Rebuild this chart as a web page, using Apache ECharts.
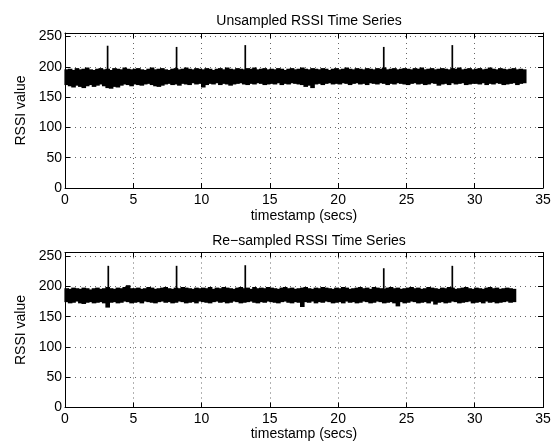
<!DOCTYPE html>
<html>
<head>
<meta charset="utf-8">
<script src="https://cdn.jsdelivr.net/npm/echarts@6/dist/echarts.min.js"></script>
<style>html,body{margin:0;padding:0;background:#fff}#c{width:556px;height:446px}</style>
</head>
<body>
<div id="c"></div>
<script>
// ---- data ----
const titles = ['Unsampled RSSI Time Series', 'Re\u2212sampled RSSI Time Series'];
const xName = 'timestamp (secs)';
const yName = 'RSSI value';
const xTicks = [0, 5, 10, 15, 20, 25, 30, 35];
const yTicks = [0, 50, 100, 150, 200, 250];
const binStep = 0.25; // seconds per envelope bin

// Unsampled series: upper / lower envelope of the dense noise band, per 0.25 s bin
const upper1 = [196,197,195,198,196,197,199,196,195,197,198,196,197,195,198,197,196,199,197,196,
197,198,196,195,197,199,196,197,198,196,195,197,198,196,197,199,197,196,198,197,
196,198,197,195,197,198,196,199,197,196,198,197,196,198,197,199,196,197,198,196,
197,196,198,197,195,197,198,196,197,199,197,196,198,197,196,198,197,195,197,198,
196,197,199,197,196,198,197,196,198,197,196,198,197,199,196,197,198,196,197,198,
197,196,198,197,199,196,197,198,196,197,198,197,196,198,197,199,196,197,198,196,
197,198,196,197,199,197,196,198,197,196,197,198,196,197,196];
const lower1 = [170,168,166,169,167,165,168,170,167,169,171,168,165,164,167,166,169,171,170,168,
171,170,169,171,172,170,168,167,169,171,172,170,171,169,172,171,170,173,171,172,
166,170,172,171,173,170,172,171,169,171,172,173,171,170,172,171,173,172,170,171,
172,171,173,170,172,171,173,172,171,170,167,169,165,171,172,170,172,173,171,172,
171,173,172,170,172,173,171,172,170,173,172,171,173,172,170,172,171,173,172,171,
170,172,173,171,172,170,171,173,172,169,171,172,170,173,171,172,173,170,171,172,
172,171,173,170,172,171,173,172,170,171,172,173,170,172,173];
const spikeT1 = [3.12, 8.17, 13.2, 23.34, 28.36];
const spikeV1 = [235, 233, 236, 233, 236];

// Re-sampled series
const upper2 = [197,196,198,197,196,198,197,195,197,198,196,197,199,197,196,198,197,199,202,197,
197,198,196,197,199,198,196,197,198,199,197,196,198,197,199,198,197,196,198,197,
198,197,199,196,198,197,199,198,197,196,198,199,197,198,196,199,197,198,197,199,
198,197,196,198,199,197,198,196,197,198,199,197,196,198,197,199,198,197,196,198,
197,199,198,196,197,198,199,197,198,196,199,198,197,196,198,199,197,198,196,197,
198,199,197,198,196,197,199,198,197,196,198,197,199,198,196,197,198,199,197,196,
198,197,196,198,199,197,198,196,197,198,197,196];
const lower2 = [174,172,173,175,172,171,173,174,172,173,174,172,165,173,174,172,173,175,174,172,
173,174,172,175,174,173,172,174,175,173,174,172,173,175,174,172,173,174,172,175,
174,173,172,174,175,173,174,172,173,175,174,172,173,174,175,173,172,174,173,175,
174,173,172,174,175,173,172,174,173,166,174,173,175,172,174,173,175,174,172,173,
174,172,175,173,174,172,173,175,174,172,173,175,174,172,173,174,172,167,174,172,
173,175,174,172,173,174,172,175,170,173,174,172,173,175,174,172,173,174,175,172,
173,174,172,175,173,174,172,173,174,175,173,174];
const spikeT2 = [3.17, 8.17, 13.2, 23.34, 28.36];
const spikeV2 = [234, 234, 235, 230, 234];
const spikeBase = 185;

// ---- chart ----
const FONT = 'Liberation Sans, Arial, sans-serif';
const chart = echarts.init(document.getElementById('c'), null, {renderer: 'canvas'});

function bandData(up, lo) {
  return up.map((u, i) => [binStep / 2 + i * binStep, lo[i], u]);
}
function spikeData(t, v) {
  return t.map((x, i) => [x, spikeBase, v[i]]);
}
function bandRender(params, api) {
  const x = api.value(0), lo = api.value(1), hi = api.value(2);
  const p1 = api.coord([x - binStep / 2, hi]);
  const p2 = api.coord([x + binStep / 2, lo]);
  return {type: 'rect', shape: {x: p1[0] - 0.6, y: p1[1], width: p2[0] - p1[0] + 1.2, height: p2[1] - p1[1]},
          style: {fill: '#000'}};
}
function spikeRender(params, api) {
  const x = api.value(0);
  const a = api.coord([x, api.value(1)]);
  const b = api.coord([x, api.value(2)]);
  return {type: 'line', shape: {x1: a[0], y1: a[1], x2: b[0], y2: b[1]}, style: {stroke: '#000', lineWidth: 1.7}};
}

const grids = [
  {left: 65, top: 33, width: 478, height: 155},
  {left: 65, top: 252.5, width: 478, height: 155}
];
const xAxes = [], yAxes = [];
const dotted = {show: true, lineStyle: {color: '#666', type: [1, 4], width: 1}};
grids.forEach((g, gi) => {
  xAxes.push({
    type: 'value', gridIndex: gi, min: xTicks[0], max: xTicks[xTicks.length - 1], interval: 5,
    name: xName, nameLocation: 'middle', nameGap: gi === 0 ? 21 : 20,
    nameTextStyle: {fontFamily: FONT, fontSize: 14, color: '#000'},
    axisLine: {onZero: false, lineStyle: {color: '#000', width: 1}},
    axisTick: {inside: true, length: 5, lineStyle: {color: '#000'}},
    axisLabel: {fontFamily: FONT, fontSize: 14, color: '#000', margin: 5},
    splitLine: dotted
  });
  xAxes.push({
    type: 'value', gridIndex: gi, position: 'top', min: 0, max: 35, interval: 5,
    axisLine: {onZero: false, lineStyle: {color: '#000', width: 1}},
    axisTick: {inside: true, length: 5, lineStyle: {color: '#000'}},
    axisLabel: {show: false}, splitLine: {show: false}
  });
  yAxes.push({
    type: 'value', gridIndex: gi, min: 0, max: 256, interval: 50,
    name: yName, nameLocation: 'middle', nameGap: 35,
    nameTextStyle: {fontFamily: FONT, fontSize: 14, color: '#000'},
    axisLine: {show: true, onZero: false, lineStyle: {color: '#000', width: 1}},
    axisTick: {show: true, inside: true, length: 5, lineStyle: {color: '#000'}, customValues: yTicks},
    axisLabel: {fontFamily: FONT, fontSize: 14, color: '#000', margin: 3, customValues: yTicks},
    splitLine: dotted
  });
  yAxes.push({
    type: 'value', gridIndex: gi, position: 'right', min: 0, max: 256, interval: 50,
    axisLine: {show: true, onZero: false, lineStyle: {color: '#000', width: 1}},
    axisTick: {show: true, inside: true, length: 5, lineStyle: {color: '#000'}, customValues: yTicks},
    axisLabel: {show: false}, splitLine: {show: false}
  });
});

chart.setOption({
  backgroundColor: '#fff',
  animation: false,
  title: [
    {text: titles[0], left: 304, top: 9, textAlign: 'center',
     textStyle: {fontFamily: FONT, fontSize: 14, fontWeight: 'normal', color: '#000'}},
    {text: titles[1], left: 304, top: 229, textAlign: 'center',
     textStyle: {fontFamily: FONT, fontSize: 14, fontWeight: 'normal', color: '#000'}}
  ],
  grid: grids,
  xAxis: xAxes,
  yAxis: yAxes,
  series: [
    {type: 'custom', xAxisIndex: 0, yAxisIndex: 0, data: bandData(upper1, lower1), renderItem: bandRender, silent: true},
    {type: 'custom', xAxisIndex: 0, yAxisIndex: 0, data: spikeData(spikeT1, spikeV1), renderItem: spikeRender, silent: true},
    {type: 'custom', xAxisIndex: 2, yAxisIndex: 2, data: bandData(upper2, lower2), renderItem: bandRender, silent: true},
    {type: 'custom', xAxisIndex: 2, yAxisIndex: 2, data: spikeData(spikeT2, spikeV2), renderItem: spikeRender, silent: true}
  ]
});
</script>
</body>
</html>
